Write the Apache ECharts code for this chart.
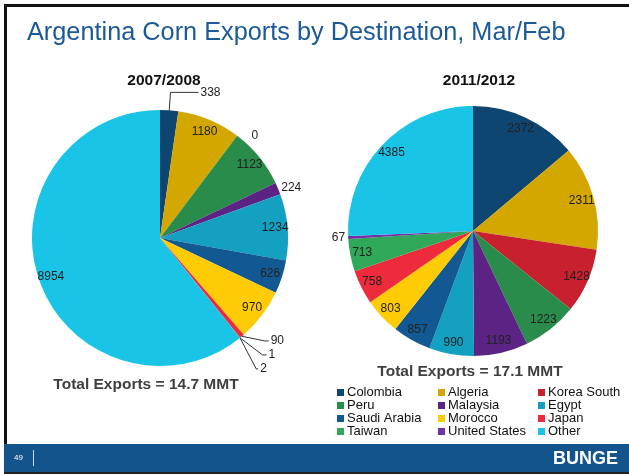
<!DOCTYPE html>
<html><head><meta charset="utf-8">
<script src="https://cdn.jsdelivr.net/npm/echarts@6/dist/echarts.min.js"></script>
<style>html,body{margin:0;padding:0;background:#fff}#c{width:629px;height:474px}</style>
</head><body><div id="c"></div>
<script>
const categories = ['Colombia','Algeria','Korea South','Peru','Malaysia','Egypt','Saudi Arabia','Morocco','Japan','Taiwan','United States','Other'];
const values2008 = [338,1180,0,1123,224,1234,626,970,90,1,2,8954];
const values2012 = [2372,2311,1428,1223,1193,990,857,803,758,713,67,4385];
const colors = ['#0f4571','#d4a700','#c8202f','#2a8c4b','#5b2484','#13a0c1','#125892','#ffcb05','#ee2b3d','#2fa85a','#7131a1','#19c4e7'];
const pieTitles = ['2007/2008','2011/2012'];
const totals = ['Total Exports = 14.7 MMT','Total Exports = 17.1 MMT'];
const legendCols = [['Colombia','Peru','Saudi Arabia','Taiwan'],['Algeria','Malaysia','Morocco','United States'],['Korea South','Egypt','Japan','Other']];

const outside2008 = {0:{l:18,l2:28,line:true},2:{l:0,l2:0,line:false},4:{l:1,l2:0,line:false},8:{l:6,l2:4,line:true},9:{l:16,l2:4,line:true},10:{l:26,l2:2,line:true}};
const outside2012 = {10:{l:1,l2:0,line:false}};

const font = 'Liberation Sans, Arial, sans-serif';
const chart = echarts.init(document.getElementById('c'));

function mainData(vals, outside){
  return categories.map((n,i)=>{
    const o = outside[i];
    const d = {name:n, value:vals[i], itemStyle:{color:colors[i]}};
    if(o){
      d.label = {show:true, position:'outside', color:'#222', fontSize:12, fontFamily:font, distanceToLabelLine:2};
      d.labelLine = {show:o.line, length:o.l, length2:o.l2, lineStyle:{color:'#333', width:1}};
    } else {
      d.label = {show:false};
      d.labelLine = {show:false};
    }
    return d;
  });
}
function overlayData(vals, outside){
  return categories.map((n,i)=>({name:n, value:vals[i], label:{show:!outside[i]}}));
}

const centers = [[160,238],[473,231]];
const radii = [128,125];
const series = [];
[values2008, values2012].forEach((vals, k)=>{
  const outside = k===0 ? outside2008 : outside2012;
  series.push({
    type:'pie', center:centers[k], radius:[0,radii[k]], startAngle:90, clockwise:true,
    avoidLabelOverlap:true, minAngle:0, stillShowZeroSum:true,
    itemStyle:{borderWidth:0},
    emphasis:{disabled:true},
    label:{formatter:'{c}'},
    data: mainData(vals, outside)
  });
  series.push({
    type:'pie', center:centers[k], radius:[radii[k]*0.76, radii[k]], startAngle:90, clockwise:true,
    silent:true, z:5, avoidLabelOverlap:false,
    itemStyle:{color:'rgba(0,0,0,0)', borderWidth:0},
    label:{show:true, position:'inside', formatter:'{c}', color:'#222', fontSize:12, fontFamily:font},
    labelLine:{show:false},
    emphasis:{disabled:true},
    legendHoverLink:false,
    data: overlayData(vals, outside)
  });
});

const legends = legendCols.map((col, j)=>({
  orient:'vertical', left:[332,433,533][j], top:381,
  itemWidth:7, itemHeight:7, itemGap:0, icon:'rect', selectedMode:false,
  textStyle:{fontSize:13, fontFamily:font, color:'#111', padding:[0,0,0,-2]},
  data: col.map(n=>({name:n, itemStyle:{color:colors[categories.indexOf(n)]}}))
}));

chart.setOption({
  animation:false,
  title:[
    {text:'Argentina Corn Exports by Destination, Mar/Feb', left:22, top:16, textStyle:{fontSize:25.3, fontWeight:'normal', color:'#1b5a97', fontFamily:font}},
    {text:pieTitles[0], left:159, top:68, textAlign:'center', textStyle:{fontSize:15.5, fontWeight:'bold', color:'#111', fontFamily:font}},
    {text:pieTitles[1], left:474, top:68, textAlign:'center', textStyle:{fontSize:15.5, fontWeight:'bold', color:'#111', fontFamily:font}},
    {text:totals[0], left:141, top:372, textAlign:'center', textStyle:{fontSize:15.5, fontWeight:'bold', color:'#3f3f3f', fontFamily:font}},
    {text:totals[1], left:465, top:359, textAlign:'center', textStyle:{fontSize:15.5, fontWeight:'bold', color:'#3f3f3f', fontFamily:font}}
  ],
  legend: legends,
  series: series,
  graphic:[
    {type:'rect', shape:{x:4,y:4,width:625,height:3}, style:{fill:'#111'}, silent:true},
    {type:'rect', shape:{x:4,y:4,width:3,height:470}, style:{fill:'#111'}, silent:true},
    {type:'rect', shape:{x:4,y:444,width:625,height:28}, style:{fill:'#14548c'}, silent:true},
    {type:'rect', shape:{x:4,y:472,width:625,height:2}, style:{fill:'#222'}, silent:true},
    {type:'text', left:14, top:454, style:{text:'49', fill:'#fff', font:'8px '+font}, silent:true},
    {type:'line', shape:{x1:33.5,y1:450,x2:33.5,y2:466}, style:{stroke:'#c9d6e3', lineWidth:1}, silent:true},
    {type:'text', left:553, top:450, style:{text:'BUNGE', fill:'#fff', font:'bold 18px '+font}, silent:true}
  ]
});
</script></body></html>
